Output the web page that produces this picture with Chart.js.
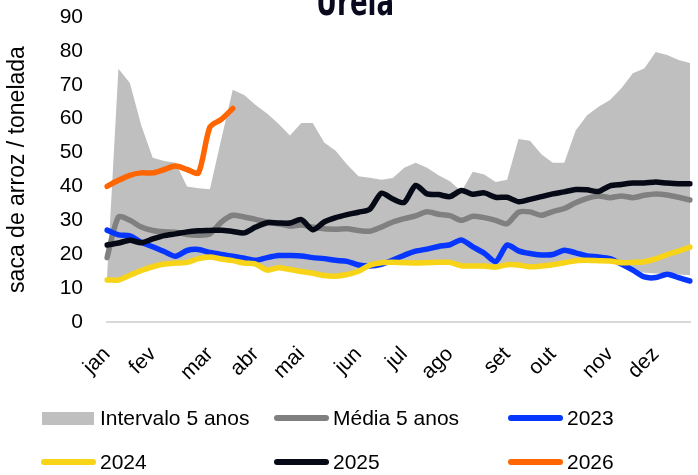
<!DOCTYPE html>
<html lang="pt">
<head>
  <meta charset="UTF-8" />
  <title>Ureia</title>
  <script src="https://cdn.jsdelivr.net/npm/chart.js"></script>
  <style>
    html, body { margin: 0; padding: 0; background: #fff; }
    #wrap { width: 698px; height: 475px; position: relative; }
  </style>
</head>
<body>
  <div id="wrap">
    <canvas id="chart"></canvas>
  </div>

  <script>
    // week labels (month name at the first week of each month)
    const weekLabels = [
      'jan','','','','fev','','','','','mar','','','','abr','','','','mai','','','','',
      'jun','','','','jul','','','','ago','','','','','set','','','','out','','','','',
      'nov','','','','dez','','',''
    ];
    const yTicks = [0, 10, 20, 30, 40, 50, 60, 70, 80, 90];

    // 5-year range (upper / lower edge of the grey band)
    const rangeHigh = [13,74.7,70.5,58,48.5,47.5,47,40,39.5,39.2,54,68.5,67,64,61.5,58.5,55,58.7,58.7,53,
      50.5,46.5,43,42.6,42,42.5,45.5,47,45.5,43.3,41.5,38.5,44.3,43.5,41.3,42,54,53.5,49.5,47,
      47,56.5,61,63.5,65.5,69,73.4,74.8,79.7,78.8,77.3,76.4];
    const rangeLow = [12.4,12.4,13.8,15.2,16.3,17.1,17.4,17.6,18.7,19.2,18.6,18.1,17.4,17.1,15.3,16,15.5,14.9,14.4,13.7,
      13.5,14,15,16.2,17,17.5,17.5,17.4,17.5,17.6,17.6,16.6,16.5,16.5,16.2,16.9,16.8,16.3,16.5,16.9,
      17.5,18.1,18.2,18.1,17.8,17,15.6,14.5,14.3,14.2,14,13.8];
    const avg5y = [19,31,30,28,27,26.6,26.5,25.8,25.6,26,29.5,31.5,31,30.3,29.5,29,28.3,28.6,28,27.5,
      27.4,27.5,27,26.8,28,29.5,30.5,31.3,32.5,31.8,31.4,30,31.2,30.8,30,29,32.4,32.5,31.5,32.6,
      33.5,35.2,36.5,37.2,36.7,37.2,36.7,37.4,37.8,37.5,36.8,36];
    const y2023 = [27.1,25.7,25.4,23.5,22.2,20.8,19.4,21.1,21.4,20.5,19.9,19.4,18.8,18.2,19,19.6,19.6,19.5,19,18.7,
      18.2,17.9,16.8,16.5,17,18.3,19.7,20.9,21.5,22.3,22.8,24.2,22.2,20.3,17.8,22.7,21,20.2,19.8,19.9,
      21.2,20.4,19.5,19.2,18.7,17.1,15.3,13.3,13.1,14.1,13.1,12.1];
    const y2024 = [12.4,12.4,13.8,15.2,16.3,17.1,17.4,17.6,18.7,19.2,18.6,18.1,17.4,17.1,15.3,16,15.5,14.9,14.4,13.7,
      13.5,14,15,16.8,17.5,17.6,17.5,17.4,17.5,17.6,17.6,16.6,16.5,16.5,16.2,16.9,16.8,16.3,16.5,16.9,
      17.5,18.1,18.2,18.1,18,17.5,17.6,17.8,18.6,19.9,20.9,22.1];
    const y2025 = [22.7,23.3,24.1,23.4,24.5,25.5,26,26.6,26.9,27,27.1,26.7,26.3,28,29.3,29.2,29.2,30.2,27.2,29.5,
      30.8,31.7,32.4,33.3,38,36.3,35.3,40.3,37.8,37.6,37,38.8,37.7,38.1,36.8,36.8,35.5,36.2,37,37.8,
      38.4,39.1,39,38.5,40.2,40.6,41,41,41.3,41,40.8,40.8];
    const y2026 = [40,41.8,43.3,44,44,45,46,45,44,57.5,59.8,63];

    const FONT = '"Liberation Sans", Arial, sans-serif';

    // legend entries: [label, colour, kind]
    const legendItems = [
      ['Intervalo 5 anos', '#bfbfbf', 'box'],
      ['Média 5 anos', '#808080', 'line'],
      ['2023', '#0636ff', 'line'],
      ['2024', '#f7d417', 'line'],
      ['2025', '#060a16', 'line'],
      ['2026', '#ff6500', 'line']
    ];

    const decor = {
      id: 'decor',
      afterDraw(chart) {
        const ctx = chart.ctx;
        ctx.save();
        // title, cut off at the top like the original
        ctx.save();
        ctx.fillStyle = '#0a0a1e';
        ctx.font = 'bold 26px "DejaVu Sans", sans-serif';
        ctx.textAlign = 'center';
        ctx.textBaseline = 'alphabetic';
        ctx.translate(355, 15);
        ctx.scale(1, 1.5);
        ctx.fillText('Ureia', 0, 0);
        ctx.restore();

        // legend, 3 columns x 2 rows
        const cols = [41, 274, 508];
        const rows = [418, 462];
        ctx.font = '21px ' + FONT;
        ctx.textAlign = 'left';
        ctx.textBaseline = 'middle';
        legendItems.forEach((it, i) => {
          const x = cols[i % 3], y = rows[Math.floor(i / 3)];
          if (it[2] === 'box') {
            ctx.fillStyle = it[1];
            ctx.fillRect(x + 1, y - 6, 52, 13);
          } else {
            ctx.strokeStyle = it[1];
            ctx.lineWidth = 6;
            ctx.lineCap = 'round';
            ctx.beginPath();
            ctx.moveTo(x + 3, y);
            ctx.lineTo(x + 52, y);
            ctx.stroke();
          }
          ctx.fillStyle = '#000';
          ctx.fillText(it[0], x + 59, y + 1);
        });
        ctx.restore();
      }
    };

    function line(label, data, color, order) {
      return {
        label, data, order,
        borderColor: color,
        backgroundColor: color,
        borderWidth: 5.5,
        pointRadius: 0,
        tension: 0.25,
        borderCapStyle: 'round',
        borderJoinStyle: 'round',
        fill: false
      };
    }

    new Chart(document.getElementById('chart'), {
      type: 'line',
      data: {
        labels: weekLabels,
        datasets: [
          {
            label: 'Intervalo 5 anos', data: rangeHigh, order: 10,
            borderWidth: 0, pointRadius: 0, tension: 0,
            backgroundColor: '#bfbfbf', borderColor: 'rgba(0,0,0,0)',
            fill: 1
          },
          {
            label: 'min', data: rangeLow, order: 11,
            borderWidth: 0, pointRadius: 0, tension: 0,
            borderColor: 'rgba(0,0,0,0)', fill: false
          },
          line('Média 5 anos', avg5y, '#808080', 6),
          line('2023', y2023, '#0636ff', 5),
          line('2024', y2024, '#f7d417', 4),
          line('2025', y2025, '#060a16', 3),
          line('2026', y2026, '#ff6500', 2)
        ]
      },
      options: {
        responsive: true,
        maintainAspectRatio: false,
        animation: false,
        layout: { padding: { top: 17, right: 8, bottom: 93, left: 0 } },
        plugins: {
          legend: { display: false },
          title: { display: false },
          tooltip: { enabled: false }
        },
        scales: {
          x: {
            offset: false,
            grid: { display: false },
            border: { display: true, color: '#d9d9d9', width: 2 },
            ticks: {
              autoSkip: false,
              minRotation: 45, maxRotation: 45,
              padding: 12,
              color: '#000',
              font: { family: FONT, size: 21 }
            },
            afterFit: s => { s.height = 60; s.paddingLeft = 0; s.paddingRight = 0; }
          },
          y: {
            min: 0, max: 90,
            afterBuildTicks: s => { s.ticks = yTicks.map(v => ({ value: v })); },
            grid: { display: false },
            border: { display: false },
            ticks: {
              padding: 16,
              color: '#000',
              font: { family: FONT, size: 21 }
            },
            title: {
              display: true,
              text: 'saca de arroz / tonelada',
              color: '#000',
              font: { family: FONT, size: 23 },
              padding: { top: 4, bottom: 0 }
            },
            afterFit: s => { s.width = 107; s.paddingTop = 0; s.paddingBottom = 0; }
          }
        }
      },
      plugins: [decor]
    });
  </script>
</body>
</html>
